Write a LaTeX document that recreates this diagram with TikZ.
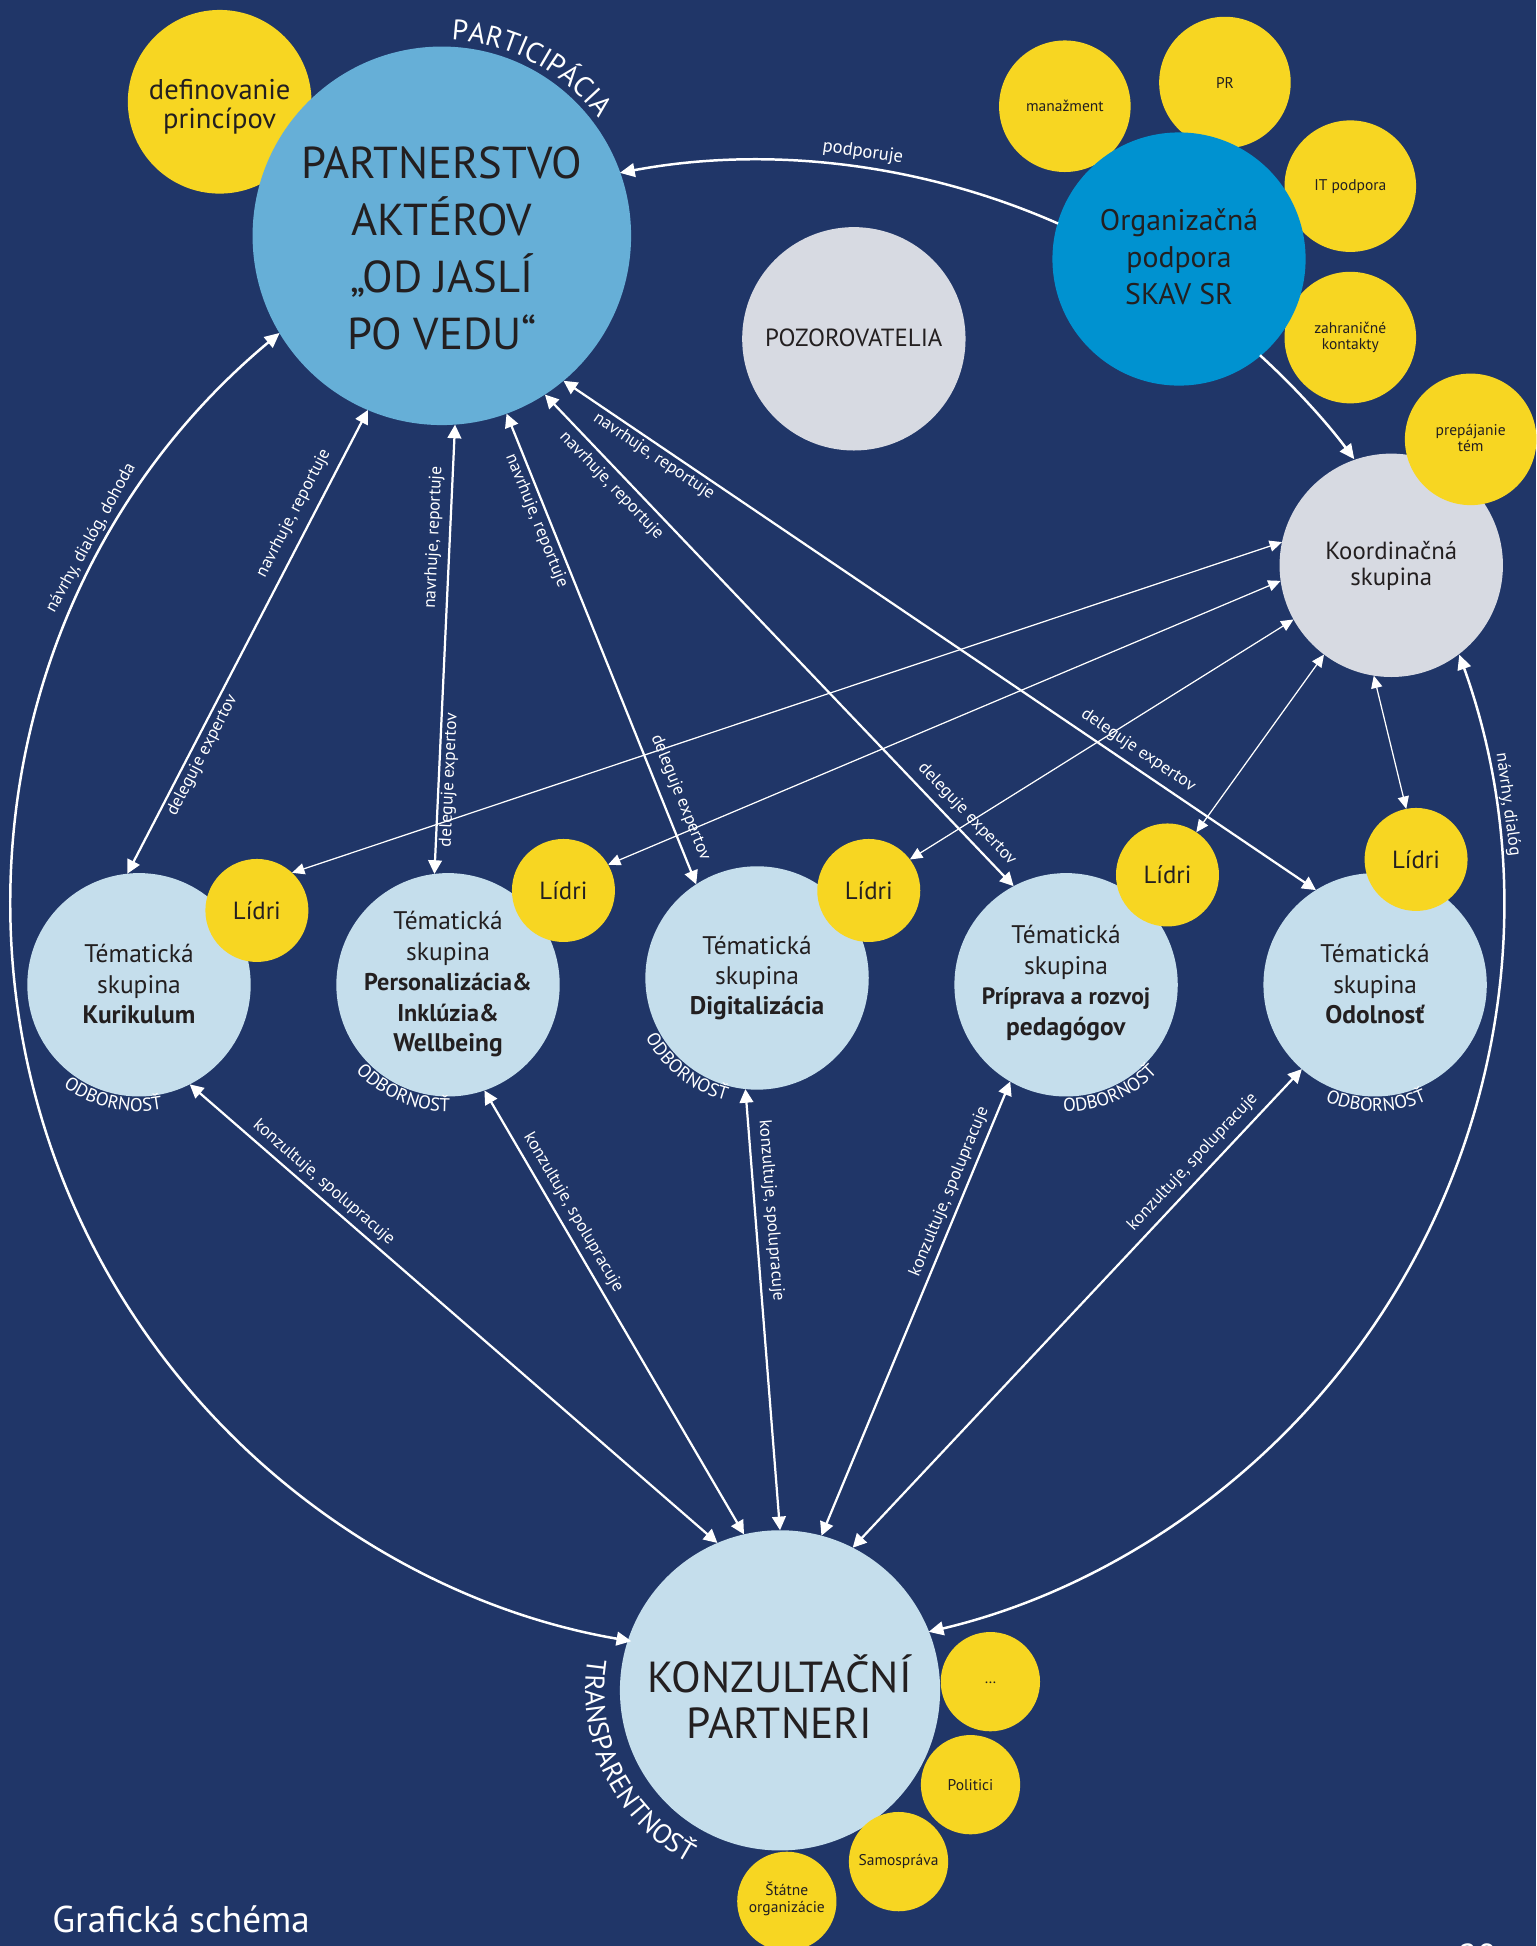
\documentclass[tikz,border=0pt]{standalone}
\usepackage{fontspec}
\setmainfont{PT Sans}
\usetikzlibrary{arrows.meta,decorations.text}
\definecolor{bgc}{RGB}{32,54,104}
\definecolor{mblue}{RGB}{102,175,215}
\definecolor{oblue}{RGB}{0,146,208}
\definecolor{yel}{RGB}{247,214,34}
\definecolor{lgray}{RGB}{215,218,226}
\definecolor{lblue}{RGB}{197,222,236}
\definecolor{dtext}{RGB}{35,31,32}
\newcommand\myfs[2]{\fontsize{#1}{#2}\selectfont}
\begin{document}
\begin{tikzpicture}[x=1pt,y=1pt,
  circ/.style={circle,fill=#1,draw=none,inner sep=0pt,outer sep=0pt},
  ctext/.style={align=center,text=dtext,inner sep=0pt},
  thk/.style={draw=white,line width=1.8pt,>={Triangle[length=11pt,width=11pt]}},
  thn/.style={draw=white,line width=1pt,>={Triangle[length=10pt,width=9pt]}},
  arcln/.style={draw=white,line width=2pt,>={Triangle[length=12pt,width=11pt]}},
  elab/.style={text=white,inner sep=0pt,font=\myfs{14}{15},sloped},
  wlab/.style={text=white,inner sep=0pt,font=\myfs{14}{15}},
  odb/.style={decorate,decoration={text along path,text align=center,text color=white,
     text={|\myfs{15}{16}|ODBORNOSŤ}}}]
\useasboundingbox (0,0) rectangle (1238,-1568);
\fill[bgc] (0,0) rectangle (1238,-1568);
\coordinate (O) at (610,-730);

% ---- top left
\node[circ=yel,minimum size=148pt] (def) at (177,-82) {};
\node[circ=mblue,minimum size=305pt] (M) at (356,-190) {};
\node[ctext,font=\myfs{23}{24}] (deft) at (177,-86) {definovanie\\princípov};
\node[ctext,font=\myfs{36}{46}] (Mt) at (356,-200) {PARTNERSTVO\\AKTÉROV\\„OD JASLÍ\\PO VEDU“};

% ---- observers
\node[circ=lgray,minimum size=180pt] (P) at (688,-273) {};
\node[ctext,font=\myfs{20}{20}] (Pt) at (688,-272) {POZOROVATELIA};

% ---- organisational support
\node[circ=yel,minimum size=106pt] (man) at (858,-85.6) {};
\node[circ=yel,minimum size=106pt] (pr) at (987,-66.5) {};
\node[circ=yel,minimum size=106pt] (itp) at (1088,-150) {};
\node[circ=yel,minimum size=106pt] (zk) at (1088,-272) {};
\node[circ=oblue,minimum size=204pt] (org) at (950,-208.7) {};
\node[ctext,font=\myfs{12.5}{13}] (mant) at (858,-85) {manažment};
\node[ctext,font=\myfs{12.5}{13}] (prt) at (987,-67) {PR};
\node[ctext,font=\myfs{12.5}{13}] (itt) at (1088,-150) {IT podpora};
\node[ctext,font=\myfs{12.5}{13}] (zkt) at (1088,-272) {zahraničné\\kontakty};
\node[ctext,font=\myfs{24}{30}] (orgt) at (950,-207) {Organizačná\\podpora\\SKAV SR};

% ---- coordination group
\node[circ=lgray,minimum size=180pt] (C) at (1121,-455.5) {};
\node[circ=yel,minimum size=106pt] (prep) at (1185,-354) {};
\node[ctext,font=\myfs{12.5}{12.5}] (prept) at (1185,-353) {prepájanie\\tém};
\node[ctext,font=\myfs{20}{21}] (Ct) at (1121,-456) {Koordinačná\\skupina};

% ---- thematic groups
\foreach \n/\x/\y in {K1/112/793.5,K2/361/793.5,K3/610/788,K4/859/793.5,K5/1108/793.5}
  \node[circ=lblue,minimum size=180pt] (\n) at (\x,-\y) {};
\foreach \n/\x/\y in {L1/207/733.6,L2/454/717.5,L3/700/717.5,L4/940.7/705,L5/1141/692.5}
  {\node[circ=yel,minimum size=83pt] (\n) at (\x,-\y) {};
   \node[ctext,font=\myfs{20}{20}] (\n t) at (\x,-\y) {Lídri};}
\node[ctext,font=\myfs{20.5}{24.5}] (K1t) at (112,-793) {Tématická\\skupina\\\textbf{Kurikulum}};
\node[ctext,font=\myfs{20.5}{24.5}] (K2t) at (361,-793) {Tématická\\skupina\\\textbf{\myfs{19.5}{24.5}Personalizácia\&}\\\textbf{\myfs{19.5}{24.5}Inklúzia\&}\\\textbf{Wellbeing}};
\node[ctext,font=\myfs{20.5}{24.5}] (K3t) at (610,-788) {Tématická\\skupina\\\textbf{Digitalizácia}};
\node[ctext,font=\myfs{20.5}{24.5}] (K4t) at (859,-792) {Tématická\\skupina\\\textbf{\myfs{19}{24.5}Príprava a rozvoj}\\\textbf{pedagógov}};
\node[ctext,font=\myfs{20.5}{24.5}] (K5t) at (1108,-793) {Tématická\\skupina\\\textbf{Odolnosť}};

% ---- consultation partners
\node[circ=lblue,minimum size=258pt] (KP) at (628.5,-1362) {};
\node[circ=yel,minimum size=80pt] (dots) at (798,-1355) {};
\node[circ=yel,minimum size=80pt] (pol) at (782,-1438) {};
\node[circ=yel,minimum size=80pt] (sam) at (724,-1500) {};
\node[circ=yel,minimum size=80pt] (stat) at (634,-1532) {};
\node[ctext,font=\myfs{35}{37}] (KPt) at (628,-1367) {KONZULTAČNÍ\\PARTNERI};
\node[ctext,font=\myfs{12.5}{13}] (dotst) at (798,-1356) {…};
\node[ctext,font=\myfs{12.5}{13}] (polt) at (782,-1438) {Politici};
\node[ctext,font=\myfs{12.5}{13}] (samt) at (724,-1500) {Samospráva};
\node[ctext,font=\myfs{12.5}{13.5}] (statt) at (634,-1530) {Štátne\\organizácie};

% ---- big circle arcs
\draw[arcln,->] ([shift={(66.2:601)}]O) arc[start angle=66.2,end angle=100.6,radius=601];
\draw[arcln,->] ([shift={(47.6:601)}]O) arc[start angle=47.6,end angle=36.8,radius=601];
\draw[arcln,<->] ([shift={(129.8:601)}]O) arc[start angle=129.8,end angle=260.3,radius=601];
\draw[arcln,<->] ([shift={(19.7:601)}]O) arc[start angle=19.7,end angle=-76.7,radius=601];
\node[wlab,font=\myfs{15}{16},rotate=-8] (podl) at ([shift={(82:613)}]O) {podporuje};
\node[wlab,rotate=61.1] (ndd) at ([shift={(151.1:613)}]O) {návrhy, dialóg, dohoda};
\node[wlab,rotate=-82.3] (nd) at ([shift={(7.7:610.5)}]O) {návrhy, dialóg};

% ---- partnership <-> thematic groups
\draw[thk,<->] (K1.96.3) -- (M.247.9)
  node[elab,pos=0.759,above=7.3pt] (a1) {navrhuje, reportuje}
  node[elab,pos=0.267,below=2.6pt] (b1) {deleguje expertov};
\draw[thk,<->] (K2.97.7) -- (M.274)
  node[elab,pos=0.747,above=5.5pt] (a2) {navrhuje, reportuje}
  node[elab,pos=0.210,below=1.2pt] (b2) {deleguje expertov};
\draw[thk,<->] (K3.123.9) -- (M.290.3)
  node[elab,pos=0.782,below=2.6pt] (a3) {navrhuje, reportuje}
  node[elab,pos=0.170,above=6.9pt] (b3) {deleguje expertov};
\draw[thk,<->] (K4.118.2) -- (M.303.4)
  node[elab,pos=0.8355,below=4.6pt] (a4) {navrhuje, reportuje}
  node[elab,pos=0.124,above=5.4pt] (b4) {deleguje expertov};
\draw[thk,<->] (K5.122) -- (M.310.9)
  node[elab,pos=0.871,below=2.3pt] (a5) {navrhuje, reportuje}
  node[elab,pos=0.248,above=5.4pt] (b5) {deleguje expertov};

% ---- coordination <-> leaders
\draw[thn,<->] (L1.47.8) -- (C.168.6);
\draw[thn,<->] (L2.30) -- (C.188);
\draw[thn,<->] (L3.37.4) -- (C.209.3);
\draw[thn,<->] (L4.56.3) -- (C.233.5);
\draw[thn,<->] (L5.101.9) -- (C.261);

% ---- thematic groups <-> consultation partners
\draw[thk,<->] (K1.297.7) -- (KP.113.1) node[elab,pos=0.237,above=3.6pt] (c1) {konzultuje, spolupracuje};
\draw[thk,<->] (K2.289.2) -- (KP.103.5) node[elab,pos=0.292,above=4.8pt] (c2) {konzultuje, spolupracuje};
\draw[thk,<->] (K3.264.9) -- (KP.90.5) node[elab,pos=0.279,above=5.5pt] (c3) {konzultuje, spolupracuje};
\draw[thk,<->] (K4.240.4) -- (KP.75.6) node[elab,pos=0.254,above=3.8pt] (c4) {konzultuje, spolupracuje};
\draw[thk,<->] (K5.229.4) -- (KP.63.2) node[elab,pos=0.217,above=5.5pt] (c5) {konzultuje, spolupracuje};

% ---- curved captions
\path[decorate,decoration={text along path,text align=center,text color=white,
   text={|\myfs{23}{24}|PARTICIPÁCIA}}]
   ([shift={(100:158)}]M) arc[start angle=100,end angle=24,radius=158];
\path[decorate,decoration={text along path,text align=center,text color=white,
   text={|\myfs{22}{23}|TRANSPARENTNOSŤ}}]
   ([shift={(160:157)}]KP) arc[start angle=160,end angle=252.8,radius=157];
\path[odb] ([shift={(217:102)}]K1) arc[start angle=217,end angle=297,radius=102];
\path[odb] ([shift={(207:102)}]K2) arc[start angle=207,end angle=287,radius=102];
\path[odb] ([shift={(192:102)}]K3) arc[start angle=192,end angle=272,radius=102];
\path[odb] ([shift={(252.5:102)}]K4) arc[start angle=252.5,end angle=332.5,radius=102];
\path[odb] ([shift={(230.5:102)}]K5) arc[start angle=230.5,end angle=310.5,radius=102];

% ---- footer
\node[anchor=base west,text=white,inner sep=0pt,font=\myfs{30}{32}] (gs) at (42,-1557) {Grafická schéma};
\node[anchor=base west,text=white,inner sep=0pt,font=\myfs{28}{30}] (pg) at (1175,-1586) {20};
\end{tikzpicture}
\end{document}
